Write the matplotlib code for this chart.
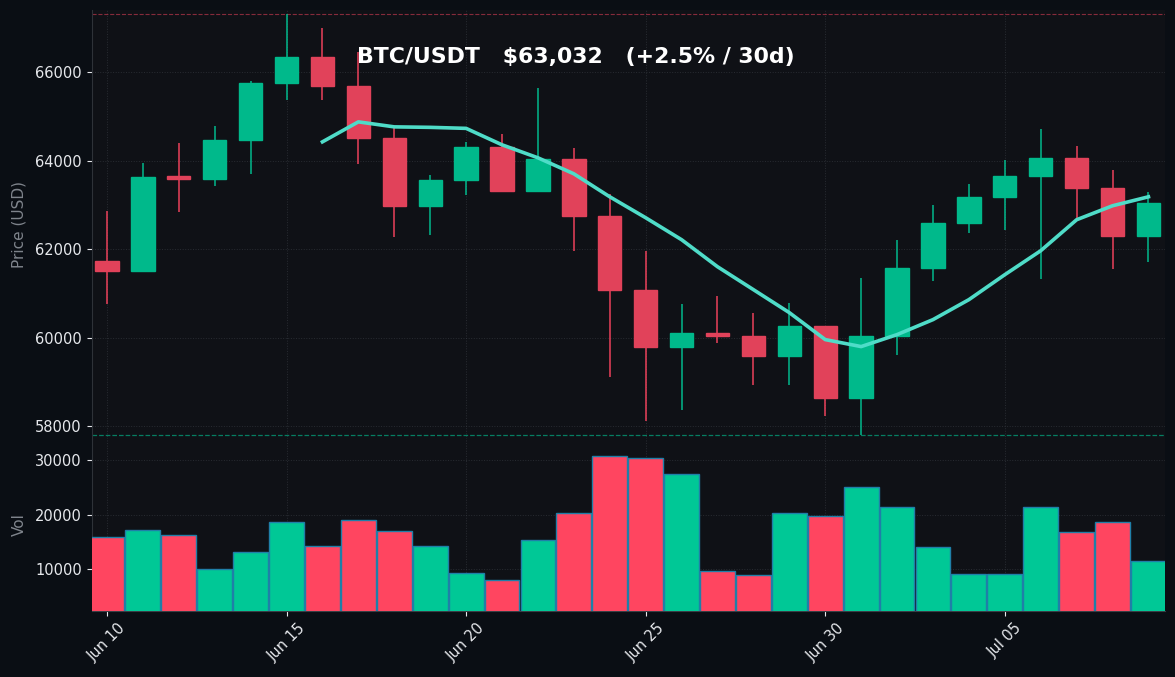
import matplotlib
matplotlib.use("Agg")
import matplotlib.pyplot as plt
from matplotlib.ticker import FixedLocator, FixedFormatter

labels = ["Jun 10", "Jun 15", "Jun 20", "Jun 25", "Jun 30", "Jul 05"]
label_idx = [0, 5, 10, 15, 20, 25]
opens = [61740, 61514, 63650, 63593, 64475, 65763, 66350, 65695, 64520, 62983,
         63571, 64316, 63322, 64045, 62757, 61085, 59797, 60113, 60045, 59593,
         60271, 58644, 60045, 61582, 62599, 63187, 63661, 64068, 63390, 62305]
closes = [61514, 63638, 63593, 64475, 65763, 66350, 65695, 64520, 62983, 63571,
          64316, 63322, 64045, 62757, 61085, 59797, 60113, 60045, 59593, 60271,
          58644, 60045, 61582, 62599, 63187, 63661, 64068, 63390, 62305, 63051]
highs = [62870, 63955, 64407, 64791, 65808, 67322, 67005, 66463, 64746, 63684,
         64430, 64610, 65650, 64294, 63254, 61966, 60768, 60949, 60565, 60791,
         60271, 61356, 62215, 63006, 63480, 64023, 64723, 64339, 63797, 63300]
lows = [60768, 61514, 62847, 63435, 63706, 65379, 65379, 63932, 62283, 62328,
        63232, 63300, 63322, 61966, 59119, 58124, 58373, 59887, 58938, 58938,
        58237, 57797, 59610, 61288, 62373, 62441, 61333, 62667, 61559, 61718]
ma_idx = list(range(6, 30))
ma_vals = [64429, 64881, 64768, 64757, 64734, 64362, 64068, 63706, 63186, 62712,
           62215, 61604, 61085, 60565, 59955, 59797, 60068, 60407, 60859, 61424,
           61966, 62667, 62983, 63186]
volumes = [16018, 17303, 16385, 10000, 13174, 18679, 14275, 19046, 17028, 14275,
           9413, 8037, 15376, 20330, 30789, 30422, 27486, 9688, 8954, 20330,
           19780, 25101, 21431, 14092, 9138, 9138, 21431, 16844, 18679, 11523]
price_ticks = [58000, 60000, 62000, 64000, 66000]
vol_ticks = [10000, 20000, 30000]

GREEN, RED = "#00c896", "#ff4560"
BODY_G, BODY_R = "#00b98b", "#e1425a"
W, H = 1175, 677
fig = plt.figure(figsize=(W / 100, H / 100), dpi=100, facecolor="#0a0e14")
L, R = 91.5 / W, 1165 / W
ax = fig.add_axes([L, 1 - 439 / H, R - L, (439 - 10) / H], facecolor="#0f1116", zorder=2)
ax.patch.set_visible(False)
vx = fig.add_axes([L, 1 - 611 / H, R - L, (611 - 439) / H], facecolor="#0f1116", sharex=ax, zorder=1)
bg = fig.add_axes([L, 1 - 439 / H, R - L, (439 - 10) / H], facecolor="#0f1116", zorder=0)
bg.set_axis_off()
bg.patch.set_visible(True)
bg.add_patch(plt.Rectangle((0, 0), 1, 1, transform=bg.transAxes, color="#0f1116"))

xs = list(range(len(opens)))
for i in xs:
    up = closes[i] >= opens[i]
    ax.vlines(i, lows[i], highs[i], color=GREEN if up else RED, lw=1.4, alpha=0.72, zorder=2)
    ax.bar(i, abs(closes[i] - opens[i]), bottom=min(opens[i], closes[i]), width=0.65,
           color=BODY_G if up else BODY_R, edgecolor=BODY_G if up else BODY_R, lw=1, zorder=3)
ax.plot(ma_idx, ma_vals, color="#4fdcc8", lw=2.6, zorder=4)
ax.axhline(max(highs), color=RED, lw=0.8, ls="--", alpha=0.5, zorder=1)
ax.axhline(min(lows), color=GREEN, lw=0.9, ls="--", alpha=0.6, zorder=1)
ax.set_ylim(57706, 67412)
ax.set_ylabel("Price (USD)", color="#7f848c", fontsize=11, labelpad=6)
ax.yaxis.set_major_locator(FixedLocator(price_ticks))

vx.bar(xs, volumes, width=0.97, color=[GREEN if c >= o else RED for o, c in zip(opens, closes)],
       edgecolor="#1f7fa8", lw=1.0, zorder=3)
vx.set_ylim(2385, 33945)
vx.set_ylabel("Vol", color="#7f848c", fontsize=11, labelpad=6)
vx.yaxis.set_major_locator(FixedLocator(vol_ticks))
vx.set_xlim(-0.43, 29.46)
vx.xaxis.set_major_locator(FixedLocator(label_idx))
vx.xaxis.set_major_formatter(FixedFormatter(labels))
plt.setp(vx.get_xticklabels(), rotation=45, ha="center", rotation_mode="default")

for a in (ax, vx):
    a.grid(True, color="#3a3e45", lw=0.7, ls=":", alpha=0.6, zorder=0)
    a.set_axisbelow(True)
    a.tick_params(colors="#e6e8ec", labelsize=10.5, width=0.8, length=3.5)
    for s in ("top", "right"):
        a.spines[s].set_visible(False)
    a.spines["left"].set_color("#2e3238")
    a.spines["bottom"].set_visible(False)
ax.tick_params(axis="x", length=0, labelbottom=False)
vx.spines["bottom"].set_visible(True)
vx.spines["bottom"].set_color("#3a3e45")

fig.text(357 / W, 1 - 63.5 / H, "BTC/USDT   $63,032   (+2.5% / 30d)", color="white",
         fontsize=15.85, fontweight="bold", ha="left", va="baseline", zorder=10)
fig.align_ylabels([ax, vx])
fig.savefig("out.png", dpi=100, facecolor=fig.get_facecolor())
